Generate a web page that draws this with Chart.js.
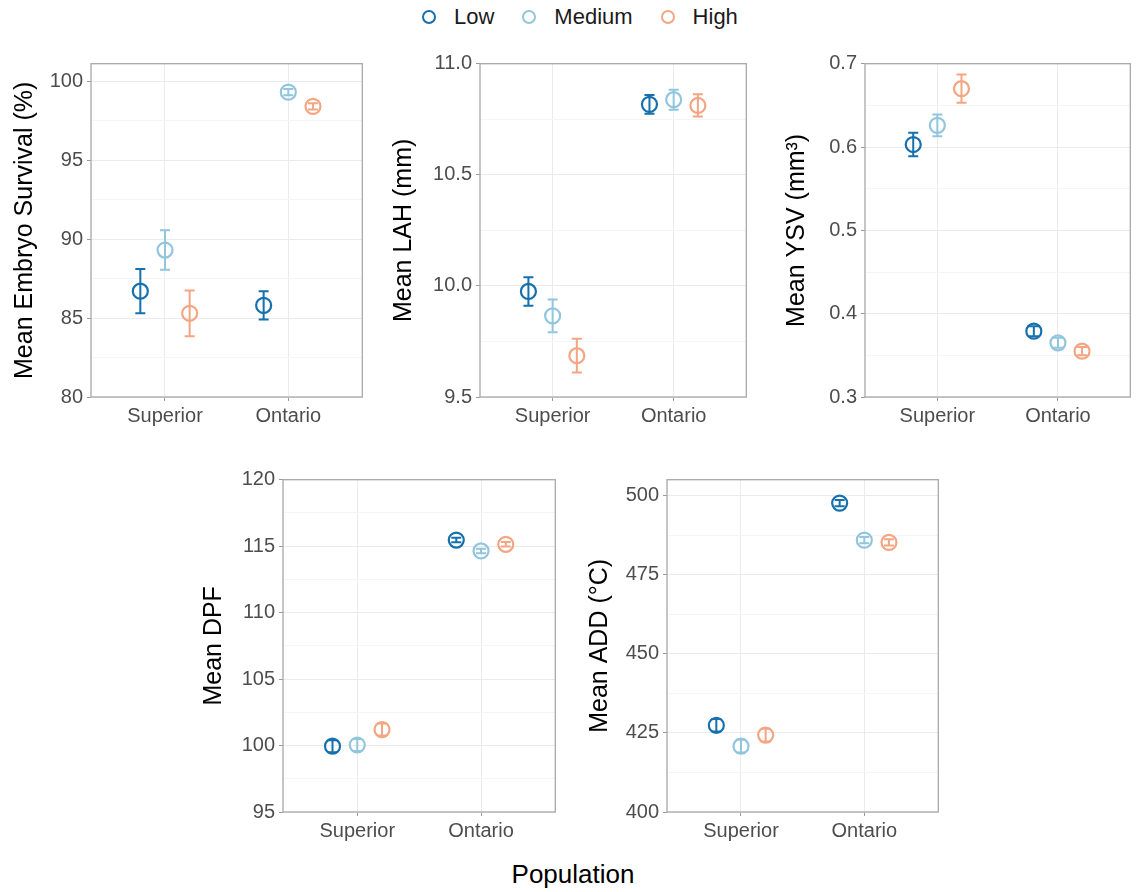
<!DOCTYPE html>
<html>
<head>
<meta charset="utf-8">
<script src="https://cdn.jsdelivr.net/npm/chart.js@4.4.1/dist/chart.umd.min.js"></script>
<style>
  body { margin: 0; background: #fff; font-family: "Liberation Sans", Arial, sans-serif; }
  #fig { position: relative; width: 1138px; height: 892px; overflow: hidden; }
  #fig canvas { position: absolute; }
  #legend { position: absolute; left: 422px; top: 6px; display: flex; align-items: center; font-size: 22px; line-height: 22px; color: #1a1a1a; }
  #legend .sw { box-sizing: border-box; width: 14px; height: 14px; border-radius: 50%; border: 2.6px solid; margin-right: 18px; }
  #legend .txt { margin-right: 28px; }
  #xtitle { position: absolute; left: 423px; top: 861px; width: 300px; text-align: center; font-size: 26px; line-height: 26px; color: #000; }
</style>
</head>
<body>
<div id="fig">
  <div id="legend"></div>
  <div id="xtitle">Population</div>
</div>
<script>
/* ── DATA ── rows = Low, Medium, High ; columns = Superior, Ontario */
const populations = ['Superior', 'Ontario'];
const levels = ['Low', 'Medium', 'High'];
const levelColors = ['#1570ad', '#92c5de', '#f4a582'];

const survivalMean = [[86.7, 85.8], [89.3, 99.3], [85.3, 98.4]];
const survivalErr  = [[1.4, 0.9], [1.25, 0.2], [1.45, 0.2]];
const survivalTicks = [80, 85, 90, 95, 100];

const lahMean = [[9.975, 10.817], [9.865, 10.838], [9.686, 10.812]];
const lahErr  = [[0.064, 0.042], [0.074, 0.045], [0.076, 0.05]];
const lahTicks = [9.5, 10.0, 10.5, 11.0];

const ysvMean = [[0.603, 0.379], [0.626, 0.365], [0.670, 0.355]];
const ysvErr  = [[0.014, 0.006], [0.013, 0.006], [0.017, 0.005]];
const ysvTicks = [0.3, 0.4, 0.5, 0.6, 0.7];

const dpfMean = [[99.95, 115.46], [100.04, 114.64], [101.2, 115.14]];
const dpfErr  = [[0.45, 0.17], [0.45, 0.17], [0.45, 0.17]];
const dpfTicks = [95, 100, 105, 110, 115, 120];

const addMean = [[427.4, 497.6], [420.8, 485.9], [424.3, 485.2]];
const addErr  = [[2.0, 1.0], [2.0, 1.0], [2.0, 1.0]];
const addTicks = [400, 425, 450, 475, 500];

/* ── layout (plot rect: left, top, right, bottom) ── */
const dodge = [-0.2, 0, 0.2];
const PAD = 8, XH = 40, TICK_FONT = 20, TITLE_FONT = 25;
const panels = [
  { title: 'Mean Embryo Survival (%)', mean: survivalMean, err: survivalErr, ticks: survivalTicks, min: 80, max: 101.1, digits: 0, plot: [91, 62, 364, 397], titleX: 25 },
  { title: 'Mean LAH (mm)', mean: lahMean, err: lahErr, ticks: lahTicks, min: 9.5, max: 11.0, digits: 1, plot: [480, 62, 748, 397], titleX: 404 },
  { title: 'Mean YSV (mm³)', mean: ysvMean, err: ysvErr, ticks: ysvTicks, min: 0.3, max: 0.7, digits: 1, plot: [865, 62, 1132, 397], titleX: 797 },
  { title: 'Mean DPF', mean: dpfMean, err: dpfErr, ticks: dpfTicks, min: 95, max: 120, digits: 0, plot: [283, 478, 557, 812], titleX: 214 },
  { title: 'Mean ADD (°C)', mean: addMean, err: addErr, ticks: addTicks, min: 400, max: 505, digits: 0, plot: [667, 478, 940, 812], titleX: 600 },
];

Chart.defaults.font.family = '"Liberation Sans", Arial, sans-serif';

/* ── error bars drawn through the scales ── */
const errorBars = {
  id: 'errorBars',
  afterDatasetsDraw(chart) {
    const { ctx, scales: { x, y } } = chart;
    chart.data.datasets.forEach(ds => {
      ctx.save();
      ctx.strokeStyle = ds.borderColor;
      ctx.lineWidth = 2;
      ds.data.forEach(d => {
        const px = x.getPixelForValue(d.x);
        const top = y.getPixelForValue(d.y + d.err);
        const bot = y.getPixelForValue(d.y - d.err);
        ctx.beginPath();
        ctx.moveTo(px, top); ctx.lineTo(px, bot);
        ctx.moveTo(px - 5, top); ctx.lineTo(px + 5, top);
        ctx.moveTo(px - 5, bot); ctx.lineTo(px + 5, bot);
        ctx.stroke();
      });
      ctx.restore();
    });
  }
};

/* ── panel border ── */
const panelFrame = {
  id: 'panelFrame',
  afterDraw(chart) {
    const { ctx, chartArea: a } = chart;
    ctx.save();
    ctx.strokeStyle = '#a8a8a8';
    ctx.lineWidth = 1.3;
    ctx.strokeRect(a.left, a.top, a.right - a.left, a.bottom - a.top);
    ctx.restore();
  }
};

function makePanel(p) {
  const [l, t, r, b] = p.plot;
  const left = p.titleX - TITLE_FONT * 0.6;
  const yW = l - left;
  const top = t - PAD;
  const canvas = document.createElement('canvas');
  canvas.width = r + PAD - left;
  canvas.height = b + XH - top;
  canvas.style.left = left + 'px';
  canvas.style.top = top + 'px';
  document.getElementById('fig').appendChild(canvas);

  const datasets = levels.map((lvl, i) => ({
    label: lvl,
    data: populations.map((pop, j) => ({ x: j + 1 + dodge[i], y: p.mean[i][j], err: p.err[i][j] })),
    borderColor: levelColors[i],
    backgroundColor: 'rgba(0,0,0,0)',
    pointRadius: 7.5,
    pointHoverRadius: 7.5,
    pointBorderWidth: 2.2,
    showLine: false,
  }));

  const step = p.ticks[1] - p.ticks[0];

  new Chart(canvas.getContext('2d'), {
    type: 'scatter',
    data: { datasets },
    options: {
      responsive: false,
      animation: false,
      layout: { padding: { top: PAD, right: PAD, left: 0, bottom: 0 } },
      plugins: { legend: { display: false }, tooltip: { enabled: false } },
      scales: {
        x: {
          type: 'linear', min: 0.4, max: 2.6,
          afterBuildTicks: s => { s.ticks = populations.map((_, j) => ({ value: j + 1 })); },
          afterFit: s => { s.height = XH; s.paddingLeft = 0; s.paddingRight = 0; },
          ticks: {
            callback: v => populations[Math.round(v) - 1],
            font: { size: TICK_FONT }, color: '#4d4d4d', padding: 3, maxRotation: 0, autoSkip: false,
          },
          grid: { color: '#ebebeb', tickColor: '#9a9a9a', tickLength: 4, lineWidth: 1 },
          border: { display: false },
        },
        y: {
          type: 'linear', min: p.min, max: p.max,
          afterBuildTicks: s => {
            const ticks = [];
            p.ticks.forEach(v => {
              ticks.push({ value: v });
              const m = v + step / 2;
              if (m <= p.max) ticks.push({ value: m, minor: true });
            });
            s.ticks = ticks;
          },
          afterFit: s => { s.width = yW; s.paddingTop = 0; s.paddingBottom = 0; },
          ticks: {
            callback: (v, i, t) => (t[i].minor ? '' : v.toFixed(p.digits)),
            font: { size: TICK_FONT }, color: '#4d4d4d', padding: 4, autoSkip: false,
          },
          grid: {
            color: c => (c.tick && c.tick.minor ? '#f5f5f5' : '#ebebeb'),
            tickColor: c => (c.tick && c.tick.minor ? 'rgba(0,0,0,0)' : '#9a9a9a'),
            tickLength: 4, lineWidth: 1,
          },
          border: { display: false },
          title: { display: true, text: p.title, font: { size: TITLE_FONT }, color: '#000', padding: 0 },
        },
      },
    },
    plugins: [errorBars, panelFrame],
  });
}

panels.forEach(makePanel);

/* ── shared legend ── */
const legend = document.getElementById('legend');
levels.forEach((lvl, i) => {
  const sw = document.createElement('span');
  sw.className = 'sw';
  sw.style.borderColor = levelColors[i];
  const txt = document.createElement('span');
  txt.className = 'txt';
  txt.textContent = lvl;
  legend.appendChild(sw);
  legend.appendChild(txt);
});
</script>
</body>
</html>
